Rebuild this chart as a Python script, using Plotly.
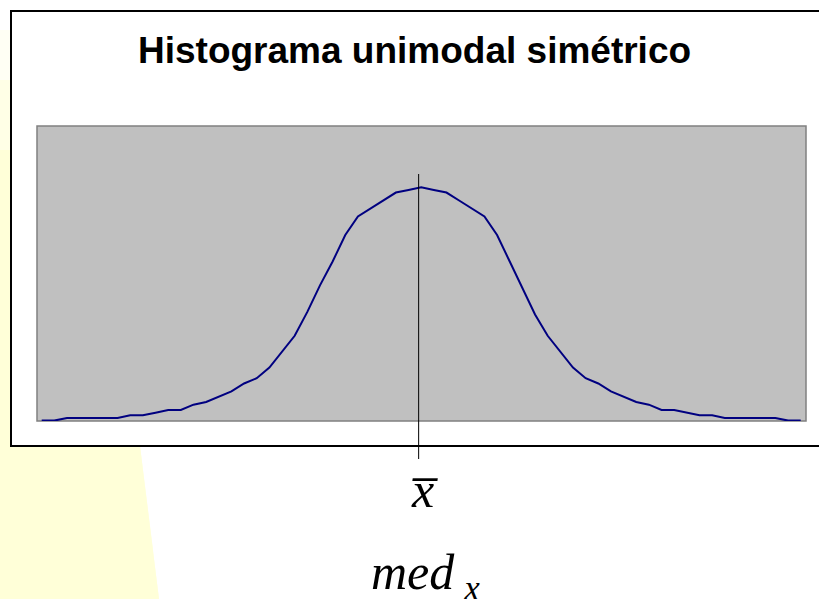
import plotly.graph_objects as go

# frecuencias (61 clases)
frecuencias = [0, 0, 1, 1, 1, 1, 1, 2, 2, 3, 4, 4, 6, 7, 9, 11, 14, 16, 20, 26,
               32, 41, 51, 60, 70, 77, 80, 83, 86, 87, 88,
               87, 86, 83, 80, 77, 70, 60, 50, 40, 32, 26, 20, 16, 14, 11, 9, 7, 6, 4,
               4, 3, 2, 2, 1, 1, 1, 1, 1, 0, 0]
clases = list(range(len(frecuencias)))
media = 29.8
titulo = 'Histograma unimodal simétrico'
etiqueta_media = '<i>x\u0305</i>'
etiqueta_mediana = '<i>med</i>\u2009<sub><i>x</i></sub>'

W, H = 819, 599
L, R, T, B = 37, 806, 126, 421


def px(x):
    return (x - L) / (R - L)


def py(y):
    return (B - y) / (B - T)


fig = go.Figure()

fig.add_trace(
    go.Scatter(
        x=clases,
        y=frecuencias,
        mode='lines',
        line=dict(color='#000080', width=2),
        showlegend=False,
        hoverinfo='skip',
    )
)

# fondo amarillo de la diapositiva
for y_top, color in [(30, '#FFFFF4'), (80, '#FFFFE6'), (150, '#FFFFD8')]:
    fig.add_shape(
        type='path',
        xref='paper', yref='paper',
        path=f'M {px(0)},{py(y_top)} L {px(84.6 + 0.124 * y_top)},{py(y_top)} '
             f'L {px(159)},{py(599)} L {px(0)},{py(599)} Z',
        fillcolor=color,
        line_width=0,
        layer='below',
    )

# marco del gráfico
fig.add_shape(
    type='rect',
    xref='paper', yref='paper',
    x0=px(11), x1=px(840), y0=py(446), y1=py(11),
    fillcolor='white',
    line=dict(color='black', width=2),
    layer='below',
)

# área de trazado gris
fig.add_shape(
    type='rect',
    xref='paper', yref='paper',
    x0=0, x1=1, y0=0, y1=1,
    fillcolor='#C0C0C0',
    line=dict(color='#808080', width=1.5),
    layer='below',
)

# línea de la media
fig.add_shape(
    type='line',
    xref='x', yref='paper',
    x0=media, x1=media, y0=py(459), y1=py(174),
    line=dict(color='black', width=1),
)

fig.add_annotation(
    xref='paper', yref='paper',
    x=px(414), y=py(50),
    text=f'<b>{titulo}</b>',
    showarrow=False,
    xanchor='center', yanchor='middle',
    font=dict(family='Liberation Sans, Arial', size=37, color='black'),
)

fig.add_annotation(
    xref='paper', yref='paper',
    x=px(425), y=py(490),
    text=etiqueta_media,
    showarrow=False,
    xanchor='center', yanchor='middle',
    font=dict(family='Liberation Serif, Times New Roman', size=50, color='black'),
)

fig.add_annotation(
    xref='paper', yref='paper',
    x=px(425), y=py(576),
    text=etiqueta_mediana,
    showarrow=False,
    xanchor='center', yanchor='middle',
    font=dict(family='Liberation Serif, Times New Roman', size=50, color='black'),
)

fig.update_layout(
    width=W,
    height=H,
    margin=dict(l=L, r=W - R, t=T, b=H - B, pad=0),
    paper_bgcolor='white',
    plot_bgcolor='rgba(0,0,0,0)',
    xaxis=dict(visible=False, range=[-0.37, 60.42], fixedrange=True),
    yaxis=dict(visible=False, range=[-0.15, 111.1], fixedrange=True),
    showlegend=False,
)

fig.write_html('out.html', config={'displayModeBar': False},
               post_script="document.body.style.margin='0';")
